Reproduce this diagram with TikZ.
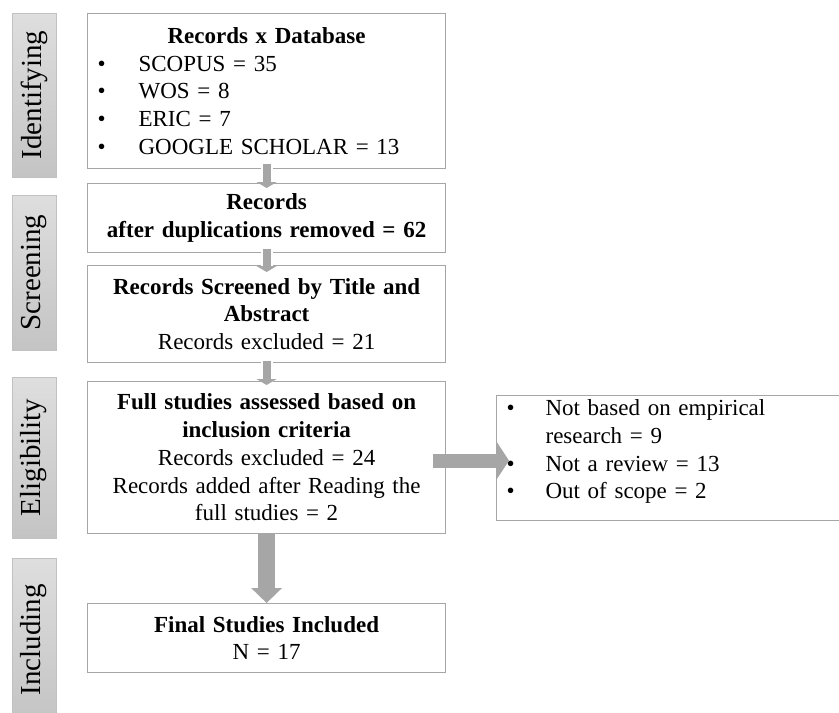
\documentclass[tikz,border=0pt]{standalone}
\usepackage{fontspec}
\setmainfont{Liberation Serif}
\usetikzlibrary{arrows.meta}
\definecolor{framegray}{RGB}{166,166,166}
\definecolor{arrowgray}{RGB}{166,166,166}
\definecolor{phaselight}{RGB}{222,222,222}
\definecolor{phasedark}{RGB}{196,196,196}
\newcommand{\itm}[2][41pt]{\makebox[#1][l]{\textbullet}#2}

\begin{document}
\begin{tikzpicture}[x=1pt,y=-1pt,
    box/.style={draw=framegray, line width=1.2pt, text width=338pt, inner xsep=10pt, inner ysep=4pt, anchor=north west, font=\fontsize{23pt}{27.75pt}\selectfont},
    phase/.style={draw=framegray!70, line width=0.8pt, top color=phaselight, bottom color=phasedark, rotate=90, minimum height=44pt, inner sep=0pt, font=\fontsize{29pt}{34pt}\selectfont},
    thinarrow/.style={arrowgray, line width=8pt, -{Triangle[width=20pt,length=6pt]}, preaction={draw=white, line width=12pt, -}},
    widearrow/.style={arrowgray, line width=17pt, -{Triangle[width=30pt,length=15pt]}, preaction={draw=white, line width=21pt, -}},
    sidearrow/.style={arrowgray, line width=14pt, -{Triangle[width=36pt,length=12pt]}},
  ]
  \useasboundingbox (0,0) rectangle (839,713);
  % phases
  \node[phase, minimum width=164pt] (idf) at (34,95) {Identifying};
  \node[phase, minimum width=155pt] (scr) at (34,272.5) {Screening};
  \node[phase, minimum width=161pt] (elg) at (34,457.5) {Eligibility};
  \node[phase, minimum width=164pt] (inc) at (34,640) {Including};
  % boxes
  \node[box, align=left, minimum height=155pt] (recs) at (87,13)
    {\makebox[338pt][c]{\bfseries Records x Database}\\
     \itm{SCOPUS = 35}\\ \itm{WOS = 8}\\ \itm{ERIC = 7}\\ \itm{GOOGLE SCHOLAR = 13}};
  \node[box, align=center, minimum height=69pt] (dedup) at (87,183)
    {\bfseries Records\\ after duplications removed = 62};
  \node[box, align=center, minimum height=97pt] (screen) at (87,265)
    {\textbf{Records Screened by Title and}\\ \textbf{Abstract}\\ Records excluded = 21};
  \node[box, align=center, minimum height=152pt] (full) at (87,381)
    {\textbf{Full studies assessed based on}\\ \textbf{inclusion criteria}\\ Records excluded = 24\\
     Records added after Reading the\\ full studies = 2};
  \node[box, align=center, minimum height=69pt] (final) at (87,603)
    {\textbf{Final Studies Included}\\ N = 17};
  \node[box, align=left, text width=330pt, inner ysep=-4pt, minimum height=125pt] (excl) at (496,395)
    {\itm[39pt]{Not based on empirical}\\ \hspace*{39pt}research = 9\\
     \itm[39pt]{Not a review = 13}\\ \itm[39pt]{Out of scope = 2}\\[-10pt]\mbox{}};
  % arrows
  \draw[thinarrow] ([yshift=5pt]recs.south) -- ([yshift=-5pt]dedup.north);
  \draw[thinarrow] ([yshift=4pt]dedup.south) -- ([yshift=-7pt]screen.north);
  \draw[thinarrow] ([yshift=2pt]screen.south) -- ([yshift=-4pt]full.north);
  \draw[widearrow] (full.south) -- (final.north);
  \coordinate (fe) at ([yshift=-3pt]full.east);
  \coordinate (exclin) at (excl.west |- fe);
  \draw[sidearrow] ([xshift=-13pt]fe) -- ([xshift=13pt]exclin);
\end{tikzpicture}
\end{document}
